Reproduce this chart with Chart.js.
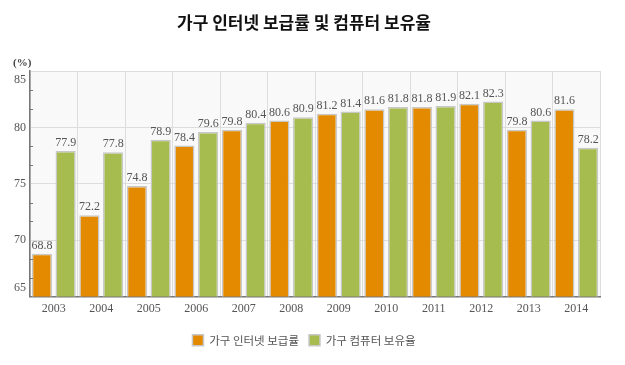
<!DOCTYPE html>
<html>
<head>
<meta charset="utf-8">
<script src="https://cdn.jsdelivr.net/npm/chart.js@4.4.1/dist/chart.umd.min.js"></script>
<style>
  html, body { margin: 0; padding: 0; background: #ffffff; }
  #wrap { width: 625px; height: 365px; }
</style>
</head>
<body>
<div id="wrap"><canvas id="c" width="625" height="365"></canvas></div>
<script>
const categories = ['2003','2004','2005','2006','2007','2008','2009','2010','2011','2012','2013','2014'];
const internetRate = [68.8, 72.2, 74.8, 78.4, 79.8, 80.6, 81.2, 81.6, 81.8, 82.1, 79.8, 81.6];
const computerRate = [77.9, 77.8, 78.9, 79.6, 80.4, 80.9, 81.4, 81.8, 81.9, 82.3, 80.6, 78.2];
const yTickValues = [65, 70, 75, 80, 85];
const seriesNames = ['가구 인터넷 보급률', '가구 컴퓨터 보유율'];
const titleText = '가구 인터넷 보급률 및 컴퓨터 보유율';
const unitLabel = '(%)';

const numFont = '"Liberation Serif", "Times New Roman", serif';
const krFont = '"Noto Sans CJK KR", "Noto Sans", sans-serif';

const plotBg = {
  id: 'plotBg',
  beforeDraw(chart) {
    const {ctx, chartArea: a} = chart;
    ctx.save();
    ctx.fillStyle = '#f9f9f9';
    ctx.fillRect(a.left, a.top, a.right - a.left, a.bottom - a.top);
    ctx.restore();
  }
};

const extras = {
  id: 'extras',
  afterDatasetsDraw(chart) {
    const {ctx} = chart;
    ctx.save();
    ctx.font = '12px ' + numFont;
    ctx.fillStyle = '#555555';
    ctx.textAlign = 'center';
    ctx.textBaseline = 'bottom';
    chart.data.datasets.forEach((ds, di) => {
      const meta = chart.getDatasetMeta(di);
      meta.data.forEach((el, i) => {
        ctx.fillText(ds.data[i].toFixed(1), el.x, el.y - 2);
      });
    });
    ctx.restore();
  },
  afterDraw(chart) {
    const {ctx, chartArea: a} = chart;
    const y = chart.scales.y;
    ctx.save();
    ctx.font = '12px ' + numFont;
    ctx.fillStyle = '#555555';
    ctx.textAlign = 'right';
    ctx.textBaseline = 'middle';
    yTickValues.forEach(v => {
      let py = y.getPixelForValue(v);
      py = Math.min(Math.max(py, a.top + 9), a.bottom - 9);
      ctx.fillText(String(v), a.left - 4, py);
    });
    ctx.strokeStyle = '#777777';
    ctx.lineWidth = 1;
    const step = (yTickValues[1] - yTickValues[0]) / 3;
    for (let k = 0; k <= 12; k++) {
      if (k % 3 === 0) continue;
      const py = Math.round(y.getPixelForValue(yTickValues[0] + k * step)) + 0.5;
      ctx.beginPath();
      ctx.moveTo(a.left, py);
      ctx.lineTo(a.left + 3, py);
      ctx.stroke();
    }
    ctx.font = 'bold 11px ' + numFont;
    ctx.fillStyle = '#444444';
    ctx.textAlign = 'left';
    ctx.textBaseline = 'middle';
    ctx.fillText(unitLabel, 13, a.top - 8);
    ctx.restore();
  }
};

new Chart(document.getElementById('c'), {
  type: 'bar',
  data: {
    labels: categories,
    datasets: [
      {
        label: seriesNames[0],
        data: internetRate,
        backgroundColor: '#e38a00',
        borderColor: '#c8c8c8',
        borderWidth: 1.5,
        categoryPercentage: 1.0,
        barPercentage: 0.85
      },
      {
        label: seriesNames[1],
        data: computerRate,
        backgroundColor: '#a6bc4e',
        borderColor: '#c8c8c8',
        borderWidth: 1.5,
        categoryPercentage: 1.0,
        barPercentage: 0.85
      }
    ]
  },
  options: {
    responsive: false,
    animation: false,
    devicePixelRatio: 1,
    layout: { padding: { left: 0, right: 17, top: 0, bottom: 9 } },
    plugins: {
      title: {
        display: true,
        text: titleText,
        color: '#111111',
        font: { family: krFont, size: 17, weight: 'bold', lineHeight: 1.2 },
        padding: { top: 12, bottom: 38.6 }
      },
      legend: {
        display: true,
        position: 'bottom',
        labels: {
          boxWidth: 11,
          boxHeight: 11,
          padding: 10,
          color: '#555555',
          font: { family: krFont, size: 11.5 }
        }
      },
      tooltip: { enabled: false }
    },
    scales: {
      x: {
        grid: { display: true, color: '#dddddd', lineWidth: 1, drawTicks: false, offset: true },
        border: { display: true, color: '#777777', width: 1.5 },
        ticks: { color: '#555555', font: { family: numFont, size: 12 }, padding: 5, maxRotation: 0 },
        afterFit(s) { s.height = 28; }
      },
      y: {
        min: 65,
        max: 85,
        ticks: { display: false, stepSize: 5 },
        grid: { color: '#dddddd', lineWidth: 1, drawTicks: false },
        border: { display: true, color: '#777777', width: 1.5 },
        afterFit(s) { s.width = 30; }
      },
      y2: {
        position: 'right',
        display: true,
        ticks: { display: false },
        grid: { display: false, drawTicks: false },
        border: { display: false },
        afterFit(s) { s.width = 8; }
      }
    }
  },
  plugins: [plotBg, extras]
});
</script>
</body>
</html>
